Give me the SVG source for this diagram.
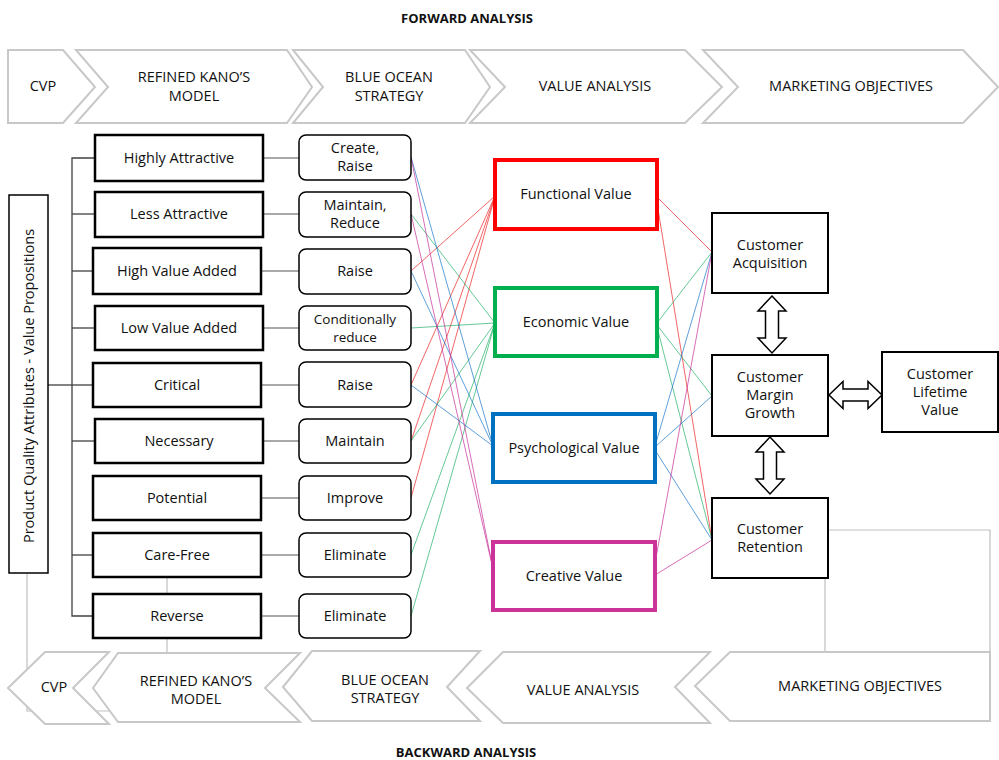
<svg xmlns="http://www.w3.org/2000/svg" width="999" height="760" viewBox="0 0 999 760">
<style>
text{font-family:"Open Sans","Liberation Sans",Arial,sans-serif;font-size:14.5px;fill:#111;text-anchor:middle}
.title{font-weight:bold;font-size:13px}
.sm{font-size:13.5px}
.chev{fill:#fff;stroke:#c8c8c8;stroke-width:2;stroke-linejoin:miter}
.kano{fill:#fff;stroke:#000;stroke-width:2.5}
.bos{fill:#fff;stroke:#000;stroke-width:1.5}
.cust{fill:#fff;stroke:#000;stroke-width:2}
.val{fill:#fff;stroke-width:4}
.tree{fill:none;stroke:#404040;stroke-width:1.3}
.link{fill:none;stroke:#555;stroke-width:1.2}
.gray{fill:none;stroke:#bfbfbf;stroke-width:1.2}
.r{stroke:#ee3333;stroke-width:1;opacity:.75}
.g{stroke:#00a550;stroke-width:1;opacity:.6}
.b{stroke:#0a6ec8;stroke-width:1;opacity:.65}
.m{stroke:#c8309a;stroke-width:1;opacity:.7}
.blk{fill:#fff;stroke:#000;stroke-width:1.5;stroke-linejoin:miter}
</style>

<text class="title" x="467" y="23">FORWARD ANALYSIS</text>
<text class="title" x="466" y="757">BACKWARD ANALYSIS</text>

<g id="gray-connectors">
<polyline class="gray" points="27,573 27,711 112,711"/>
<polyline class="gray" points="167,577 167,653"/>
<polyline class="gray" points="828,530 990,530 990,652"/>
<polyline class="gray" points="825,578 825,652"/>
</g>

<g id="forward-chevrons">
<g id="f-cvp"><polygon class="chev" points="8,50 63,50 95,87 63,123 8,123"/><text x="43" y="91">CVP</text></g>
<g id="f-kano"><polygon class="chev" points="76,50 287,50 312,87 287,123 76,123 108,87"/><text x="194" y="82">REFINED KANO’S</text><text x="194" y="101">MODEL</text></g>
<g id="f-bos"><polygon class="chev" points="293,50 465,50 490,87 465,123 293,123 323,87"/><text x="389" y="82">BLUE OCEAN</text><text x="389" y="101">STRATEGY</text></g>
<g id="f-va"><polygon class="chev" points="470,50 685,50 722,87 685,123 470,123 505,87"/><text x="595" y="91">VALUE ANALYSIS</text></g>
<g id="f-mo"><polygon class="chev" points="703,50 963,50 998,87 963,123 703,123 738,87"/><text x="851" y="91">MARKETING OBJECTIVES</text></g>
</g>

<g id="backward-chevrons">
<g id="b-mo"><polygon class="chev" points="695,686 730,652 990,652 990,721 730,721"/><text x="860" y="691">MARKETING OBJECTIVES</text></g>
<g id="b-va"><polygon class="chev" points="467,688 503,652 710,652 675,687 710,723 503,723"/><text x="583" y="695">VALUE ANALYSIS</text></g>
<g id="b-bos"><polygon class="chev" points="283,687 312,651 480,651 447,687 480,721 312,721"/><text x="385" y="685">BLUE OCEAN</text><text x="385" y="703">STRATEGY</text></g>
<g id="b-kano"><polygon class="chev" points="93,688 118,653 300,653 265,688 300,722 118,722"/><text x="196" y="686">REFINED KANO’S</text><text x="196" y="704">MODEL</text></g>
<g id="b-cvp"><polygon class="chev" points="8,688 45,652 109,652 73,688 109,724 45,724"/><text x="54" y="692">CVP</text></g>
</g>

<g id="connectors">
<polyline class="tree" points="48,385 72,385"/>
<polyline class="tree" points="95,158 72,158 72,616 93,616"/>
<line class="tree" x1="72" y1="214" x2="95" y2="214"/>
<line class="tree" x1="72" y1="271" x2="93" y2="271"/>
<line class="tree" x1="72" y1="328" x2="95" y2="328"/>
<line class="tree" x1="72" y1="385" x2="93" y2="385"/>
<line class="tree" x1="72" y1="441" x2="95" y2="441"/>
<line class="tree" x1="72" y1="555" x2="93" y2="555"/>

<line class="link" x1="263" y1="158" x2="299" y2="158"/>
<line class="link" x1="263" y1="214" x2="299" y2="214"/>
<line class="link" x1="261" y1="271" x2="299" y2="271"/>
<line class="link" x1="263" y1="328" x2="299" y2="328"/>
<line class="link" x1="261" y1="385" x2="299" y2="385"/>
<line class="link" x1="263" y1="441" x2="299" y2="441"/>
<line class="link" x1="261" y1="498" x2="299" y2="498"/>
<line class="link" x1="261" y1="555" x2="299" y2="555"/>
<line class="link" x1="261" y1="616" x2="299" y2="616"/>

<line class="r" x1="411" y1="271" x2="495" y2="196"/>
<line class="r" x1="411" y1="385" x2="495" y2="196"/>
<line class="r" x1="411" y1="441" x2="495" y2="196"/>
<line class="r" x1="411" y1="498" x2="495" y2="196"/>
<line class="g" x1="411" y1="214" x2="495" y2="323"/>
<line class="g" x1="411" y1="328" x2="495" y2="323"/>
<line class="g" x1="411" y1="441" x2="495" y2="323"/>
<line class="g" x1="411" y1="555" x2="495" y2="323"/>
<line class="g" x1="411" y1="616" x2="495" y2="323"/>
<line class="b" x1="411" y1="157" x2="493" y2="446"/>
<line class="b" x1="411" y1="271" x2="493" y2="446"/>
<line class="b" x1="411" y1="385" x2="493" y2="446"/>
<line class="m" x1="411" y1="157" x2="493" y2="569"/>
<line class="m" x1="411" y1="214" x2="493" y2="569"/>

<line class="r" x1="657" y1="197" x2="712" y2="252"/>
<line class="r" x1="657" y1="203" x2="712" y2="540"/>
<line class="g" x1="657" y1="323" x2="712" y2="252"/>
<line class="g" x1="657" y1="325" x2="712" y2="396"/>
<line class="g" x1="657" y1="327" x2="712" y2="540"/>
<line class="b" x1="655" y1="446" x2="712" y2="252"/>
<line class="b" x1="655" y1="447" x2="712" y2="396"/>
<line class="b" x1="655" y1="450" x2="712" y2="540"/>
<line class="m" x1="655" y1="563" x2="712" y2="252"/>
<line class="m" x1="655" y1="575" x2="712" y2="540"/>

<polygon class="blk" points="772,296 786,311 778.5,311 778.5,338 786,338 772,353 758,338 765.5,338 765.5,311 758,311"/>
<polygon class="blk" points="770,437 784,452 776.5,452 776.5,479 784,479 770,494 756,479 763.5,479 763.5,452 756,452"/>
<polygon class="blk" points="829,395 843,381.5 843,389 868,389 868,381.5 882,395 868,408.5 868,401 843,401 843,408.5"/>
</g>

<g id="pqa"><rect x="9" y="195" width="39" height="378" fill="#fff" stroke="#000" stroke-width="1.5"/><text transform="translate(34,386) rotate(-90)">Product Quality Attributes - Value Propositions</text></g>

<g id="k1"><rect class="kano" x="95" y="135" width="168" height="46"/><text x="179" y="163">Highly Attractive</text></g>
<g id="k2"><rect class="kano" x="95" y="192" width="168" height="45"/><text x="179" y="219">Less Attractive</text></g>
<g id="k3"><rect class="kano" x="93" y="248" width="168" height="46"/><text x="177" y="276">High Value Added</text></g>
<g id="k4"><rect class="kano" x="95" y="306" width="168" height="44"/><text x="179" y="333">Low Value Added</text></g>
<g id="k5"><rect class="kano" x="93" y="363" width="168" height="44"/><text x="177" y="390">Critical</text></g>
<g id="k6"><rect class="kano" x="95" y="419" width="168" height="44"/><text x="179" y="446">Necessary</text></g>
<g id="k7"><rect class="kano" x="93" y="476" width="168" height="44"/><text x="177" y="503">Potential</text></g>
<g id="k8"><rect class="kano" x="93" y="533" width="168" height="44"/><text x="177" y="560">Care-Free</text></g>
<g id="k9"><rect class="kano" x="93" y="594" width="168" height="44"/><text x="177" y="621">Reverse</text></g>

<g id="s1"><rect class="bos" x="299" y="135" width="112" height="45" rx="7"/><text x="355" y="153">Create,</text><text x="355" y="171">Raise</text></g>
<g id="s2"><rect class="bos" x="299" y="192" width="112" height="45" rx="7"/><text x="355" y="210">Maintain,</text><text x="355" y="228">Reduce</text></g>
<g id="s3"><rect class="bos" x="299" y="249" width="112" height="45" rx="7"/><text x="355" y="276">Raise</text></g>
<g id="s4"><rect class="bos" x="299" y="306" width="112" height="44" rx="7"/><text class="sm" x="355" y="324">Conditionally</text><text class="sm" x="355" y="342">reduce</text></g>
<g id="s5"><rect class="bos" x="299" y="362" width="112" height="45" rx="7"/><text x="355" y="390">Raise</text></g>
<g id="s6"><rect class="bos" x="299" y="419" width="112" height="44" rx="7"/><text x="355" y="446">Maintain</text></g>
<g id="s7"><rect class="bos" x="299" y="476" width="112" height="44" rx="7"/><text x="355" y="503">Improve</text></g>
<g id="s8"><rect class="bos" x="299" y="533" width="112" height="44" rx="7"/><text x="355" y="560">Eliminate</text></g>
<g id="s9"><rect class="bos" x="299" y="594" width="112" height="44" rx="7"/><text x="355" y="621">Eliminate</text></g>

<g id="v1"><rect class="val" x="495" y="160" width="162" height="69" stroke="#ff0000"/><text x="576" y="199">Functional Value</text></g>
<g id="v2"><rect class="val" x="495" y="288" width="162" height="68" stroke="#00b050"/><text x="576" y="327">Economic Value</text></g>
<g id="v3"><rect class="val" x="493" y="414" width="162" height="68" stroke="#0070c0"/><text x="574" y="453">Psychological Value</text></g>
<g id="v4"><rect class="val" x="493" y="542" width="162" height="68" stroke="#cc3399"/><text x="574" y="581">Creative Value</text></g>

<g id="c1"><rect class="cust" x="712" y="213" width="116" height="80"/><text x="770" y="250">Customer</text><text x="770" y="268">Acquisition</text></g>
<g id="c2"><rect class="cust" x="712" y="355" width="116" height="81"/><text x="770" y="382">Customer</text><text x="770" y="400">Margin</text><text x="770" y="418">Growth</text></g>
<g id="c3"><rect class="cust" x="882" y="352" width="116" height="80"/><text x="940" y="379">Customer</text><text x="940" y="397">Lifetime</text><text x="940" y="415">Value</text></g>
<g id="c4"><rect class="cust" x="712" y="498" width="116" height="80"/><text x="770" y="534">Customer</text><text x="770" y="552">Retention</text></g>
</svg>
